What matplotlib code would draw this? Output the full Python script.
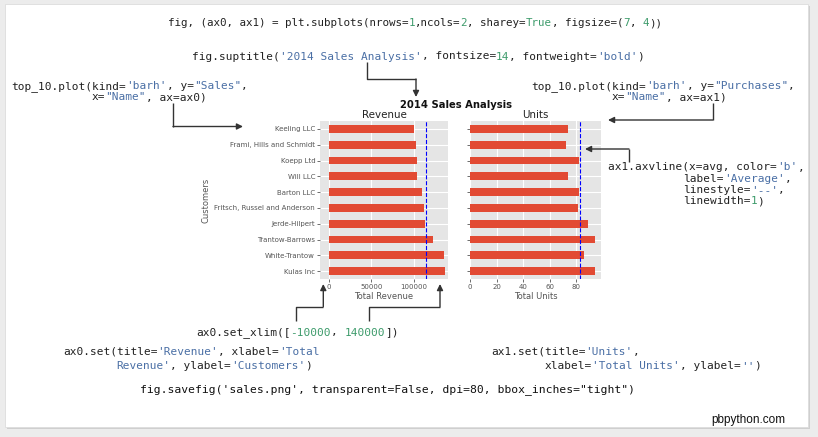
import matplotlib
matplotlib.use('Agg')
import matplotlib.pyplot as plt
from matplotlib.patches import Rectangle

# ---------------- data ----------------
customers = ["Kulas Inc", "White-Trantow", "Trantow-Barrows", "Jerde-Hilpert",
             "Fritsch, Russel and Anderson", "Barton LLC", "Will LLC", "Koepp Ltd",
             "Frami, Hills and Schmidt", "Keeling LLC"]
sales = [136500, 135000, 123000, 112500, 112000, 109000, 104000, 103500, 103000, 100000]
purchases = [94, 86, 94, 89, 81, 82, 74, 82, 72, 74]
avg_sales = 114000
avg_units = 83
rev_ticks = [0, 50000, 100000]
unit_ticks = [0, 20, 40, 60, 80]
rev_xlim = [-10000, 140000]

W, H, DPI = 818, 437, 100
plt.style.use('ggplot')
fig = plt.figure(figsize=(W / DPI, H / DPI), dpi=DPI)
fig.patch.set_facecolor('#ececec')
renderer = fig.canvas.get_renderer()


def fx(x):
    return x / W


def fy(y):
    return 1 - y / H


# card with shadow
fig.add_artist(Rectangle((fx(7), fy(429)), 803 / W, 423 / H, transform=fig.transFigure,
                         facecolor='#cfcfcf', edgecolor='none', zorder=-3))
fig.add_artist(Rectangle((fx(5), fy(427)), 803 / W, 423 / H, transform=fig.transFigure,
                         facecolor='white', edgecolor='#dddddd', lw=0.6, zorder=-2))


def add_ax(l, t, r, b, **kw):
    return fig.add_axes([l / W, 1 - b / H, (r - l) / W, (b - t) / H], **kw)


BAR = '#E24A33'
TICKC = '#555555'
ypos = list(range(len(customers)))

ax0 = add_ax(320, 121, 448, 279)
ax0.barh(ypos, sales, height=0.5, color=BAR, zorder=2)
ax0.axvline(avg_sales, color='b', linestyle='--', linewidth=0.8, zorder=3)
ax0.set_xlim(rev_xlim)
ax0.set_ylim(-0.5, len(customers) - 0.5)
ax0.set_yticks(ypos)
ax0.set_yticklabels(customers)
ax0.set_xticks(rev_ticks)
ax0.set_title('Revenue', fontsize=7.4, pad=2.5, color='#222222')
ax0.set_xlabel('Total Revenue', fontsize=6, color=TICKC, labelpad=1.5)
ax0.set_ylabel('Customers', fontsize=6, color=TICKC, labelpad=3)

ax1 = add_ax(470, 121, 601, 279, sharey=ax0)
ax1.barh(ypos, purchases, height=0.5, color=BAR, zorder=2)
ax1.axvline(avg_units, color='b', linestyle='--', linewidth=0.8, zorder=3)
ax1.set_xticks(unit_ticks)
ax1.set_title('Units', fontsize=7.4, pad=2.5, color='#222222')
ax1.set_xlabel('Total Units', fontsize=6, color=TICKC, labelpad=1.5)
ax1.tick_params(axis='y', labelleft=False)

for ax in (ax0, ax1):
    ax.set_facecolor('#E5E5E5')
    ax.grid(True, color='white', linewidth=0.8)
    ax.set_axisbelow(True)
    for s in ax.spines.values():
        s.set_visible(False)
    ax.tick_params(labelsize=5, length=2, width=0.6, color=TICKC, labelcolor=TICKC, pad=1.5)

fig.text(fx(456), fy(105), '2014 Sales Analysis', fontsize=7.2, fontweight='bold',
         ha='center', va='center', color='#111111')

# ---------------- code annotations ----------------
MONO = 'DejaVu Sans Mono'
K, S, N = '#222222', '#4a6fa5', '#3d9b6b'
_cache = {}


def text_w(s, fs):
    key = (s, fs)
    if key not in _cache:
        t = fig.text(0, 0, s, family=MONO, fontsize=fs)
        _cache[key] = t.get_window_extent(renderer).width
        t.remove()
    return _cache[key]


def char_w(fs):
    return (text_w(' ' + 'x' * 100, fs) - text_w(' ' + 'x' * 50, fs)) / 50.0


def code(x, y, segs, fs=8.0):
    cw = char_w(fs)
    n = 0
    for s, c in segs:
        # left side bearing of the first glyph, lost by ink-based alignment
        lsb = text_w(' ' + s, fs) - text_w(s, fs) - cw
        fig.text(fx(x + n * cw + lsb), fy(y), s, family=MONO, fontsize=fs, color=c,
                 ha='left', va='baseline')
        n += len(s)


code(168, 26, [("fig, (ax0, ax1) = plt.subplots(nrows=", K), ("1", N), (",ncols=", K), ("2", N),
               (", sharey=", K), ("True", N), (", figsize=(", K), ("7", N), (", ", K), ("4", N),
               ("))", K)], fs=7.8)
code(192, 59.5, [("fig.suptitle(", K), ("'2014 Sales Analysis'", S), (", fontsize=", K),
                 ("14", N), (", fontweight=", K), ("'bold'", S), (")", K)])
code(11.7, 89, [("top_10.plot(kind=", K), ("'barh'", S), (", y=", K), ('"Sales"', S), (",", K)])
code(91.7, 100.5, [("x=", K), ('"Name"', S), (", ax=ax0)", K)])
code(531.7, 89, [("top_10.plot(kind=", K), ("'barh'", S), (", y=", K), ('"Purchases"', S), (",", K)])
code(611.7, 100.5, [("x=", K), ('"Name"', S), (", ax=ax1)", K)])
code(608.3, 170.5, [("ax1.axvline(x=avg, color=", K), ("'b'", S), (",", K)])
code(683.3, 182, [("label=", K), ("'Average'", S), (",", K)])
code(683.3, 193, [("linestyle=", K), ("'--'", S), (",", K)])
code(683.3, 204, [("linewidth=", K), ("1", N), (")", K)])
code(196, 335.5, [("ax0.set_xlim([", K), ("-10000", N), (", ", K), ("140000", N), ("])", K)])
code(63, 355, [("ax0.set(title=", K), ("'Revenue'", S), (", xlabel=", K), ("'Total", S)])
code(116, 369, [("Revenue'", S), (", ylabel=", K), ("'Customers'", S), (")", K)])
code(491, 355, [("ax1.set(title=", K), ("'Units'", S), (",", K)])
code(545, 369, [("xlabel=", K), ("'Total Units'", S), (", ylabel=", K), ("''", S), (")", K)])
code(140, 392, [("fig.savefig('sales.png', transparent=False, dpi=80, bbox_inches=\"tight\")", '#111111')],
     fs=8.2)

fig.text(fx(785), fy(420), 'pbpython.com', family='Liberation Sans', fontsize=8.5,
         ha='right', va='center', color='#111111')

# ---------------- arrows ----------------
ov = fig.add_axes([0, 0, 1, 1], zorder=10)
ov.set_xlim(0, W)
ov.set_ylim(H, 0)
ov.axis('off')
ov.patch.set_alpha(0)

LC = '#333333'


def elbow(pts):
    xs = [p[0] for p in pts[:-1]]
    ys = [p[1] for p in pts[:-1]]
    ov.plot(xs, ys, color=LC, lw=1.0, solid_capstyle='butt')
    ov.annotate('', xy=pts[-1], xytext=pts[-2],
                arrowprops=dict(arrowstyle='-|>', color=LC, lw=1.0, mutation_scale=9,
                                shrinkA=0, shrinkB=0, facecolor='black'))


elbow([(367, 62), (367, 79), (416, 79), (416, 97)])
elbow([(173, 103), (173, 126.5), (243, 126.5)])
elbow([(712.7, 103), (712.7, 120), (608, 120)])
elbow([(629, 162), (629, 149), (585, 149)])
elbow([(296, 321), (296, 306.7), (323.3, 306.7), (323.3, 284)])
elbow([(369.3, 321), (369.3, 306.7), (440, 306.7), (440, 284)])

fig.savefig('out.png', dpi=DPI, facecolor=fig.get_facecolor())
